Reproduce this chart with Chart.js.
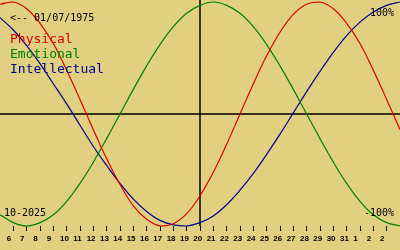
<!DOCTYPE html>
<html>
<head>
<meta charset="utf-8">
<script src="https://cdn.jsdelivr.net/npm/chart.js@4/dist/chart.umd.min.js"></script>
<style>
    html, body { margin: 0; padding: 0; background: #e0d080; }
    #wrap { width: 400px; height: 250px; position: relative; }
</style>
</head>
<body>
<div id="wrap"><canvas id="myChart" width="400" height="250"></canvas></div>
<script>
// day slots across the window, 0 and 30 sit on the edges
const DAY_SLOTS = [0, 1, 2, 3, 4, 5, 6, 7, 8, 9, 10, 11, 12, 13, 14, 15, 16, 17, 18, 19, 20, 21, 22, 23, 24, 25, 26, 27, 28, 29, 30];
const DAY_LABELS = ['6', '7', '8', '9', '10', '11', '12', '13', '14', '15', '16', '17', '18', '19', '20',
    '21', '22', '23', '24', '25', '26', '27', '28', '29', '30', '31', '1', '2', '2'];
const TODAY_SLOT = 15;

const PHYSICAL = [98, 100, 94, 81, 63, 39, 13, -14, -40, -63, -82, -94, -100, -98, -89, -73,
    -52, -27, 0, 27, 52, 73, 89, 98, 100, 94, 81, 63, 39, 13, -14];
const EMOTIONAL = [-90, -97, -100, -97, -90, -78, -62, -43, -22, 0, 22, 43, 62, 78, 90, 97,
    100, 97, 90, 78, 62, 43, 22, 0, -22, -43, -62, -78, -90, -97, -100];
const INTELLECTUAL = [86, 75, 61, 45, 27, 9, -10, -29, -46, -62, -76, -87, -95, -99, -100, -97,
    -91, -81, -68, -53, -36, -18, 1, 20, 38, 55, 70, 82, 91, 97, 100];

const COLORS = {
    bg: '#e0d080',
    physical: '#dd0000',
    emotional: '#008000',
    intellectual: '#000090'
};

function toPoints (values) {
    return values.map((v, i) => ({ x: DAY_SLOTS[i], y: v }));
}

function lineDataset (label, values, color) {
    return {
        label: label,
        data: toPoints(values),
        borderColor: color,
        borderWidth: 1.2,
        pointRadius: 0,
        pointHoverRadius: 0,
        fill: false,
        clip: false,
        tension: 0.4
    };
}

const overlay = {
    id: 'overlay',
    beforeDraw (chart) {
        const { ctx, width, height } = chart;
        ctx.save();
        ctx.fillStyle = COLORS.bg;
        ctx.fillRect(0, 0, width, height);
        ctx.restore();
    },
    beforeDatasetsDraw (chart) {
        const { ctx, chartArea, scales } = chart;
        const x0 = scales.x.getPixelForValue(TODAY_SLOT);
        const y0 = scales.y.getPixelForValue(0);
        ctx.save();
        ctx.strokeStyle = '#000';
        ctx.lineWidth = 1.5;
        ctx.beginPath();
        ctx.moveTo(chartArea.left, y0);
        ctx.lineTo(chartArea.right, y0);
        ctx.moveTo(x0, 0);
        ctx.lineTo(x0, chartArea.bottom);
        ctx.stroke();
        ctx.restore();
    },
    afterDraw (chart) {
        const { ctx } = chart;
        ctx.save();
        ctx.textBaseline = 'alphabetic';
        ctx.fillStyle = '#000';
        ctx.font = '10px "DejaVu Sans Mono"';
        ctx.textAlign = 'left';
        ctx.fillText('<-- 01/07/1975', 10, 21);
        ctx.fillText('10-2025', 4, 216);
        ctx.textAlign = 'right';
        ctx.fillText('100%', 394, 16);
        ctx.fillText('-100%', 394, 216);

        ctx.textAlign = 'left';
        ctx.font = '13px "DejaVu Sans Mono"';
        ctx.fillStyle = COLORS.physical;
        ctx.fillText('Physical', 10, 43);
        ctx.fillStyle = COLORS.emotional;
        ctx.fillText('Emotional', 10, 58);
        ctx.fillStyle = COLORS.intellectual;
        ctx.fillText('Intellectual', 10, 73);
        ctx.restore();
    }
};

new Chart(document.getElementById('myChart'), {
    type: 'line',
    data: {
        datasets: [
            lineDataset('Physical', PHYSICAL, COLORS.physical),
            lineDataset('Emotional', EMOTIONAL, COLORS.emotional),
            lineDataset('Intellectual', INTELLECTUAL, COLORS.intellectual)
        ]
    },
    options: {
        responsive: false,
        animation: false,
        devicePixelRatio: 1,
        events: [],
        layout: { autoPadding: false, padding: { top: 2, left: 0, right: 0, bottom: 0 } },
        plugins: {
            legend: { display: false },
            tooltip: { enabled: false }
        },
        scales: {
            x: {
                type: 'linear',
                min: 0,
                max: 30,
                border: { display: false },
                grid: {
                    drawOnChartArea: false,
                    drawTicks: true,
                    tickLength: 5,
                    tickWidth: 1,
                    tickColor: (c) => (c.index === 0 || c.index === 30) ? 'rgba(0,0,0,0)' : '#000'
                },
                ticks: {
                    stepSize: 1,
                    autoSkip: false,
                    maxRotation: 0,
                    minRotation: 0,
                    align: 'start',
                    labelOffset: -6.67,
                    padding: 3,
                    color: '#000',
                    font: { family: '"Liberation Sans"', size: 8, weight: 'bold' },
                    callback: (value, i) => DAY_LABELS[i - 1] || ''
                },
                afterFit: (scale) => {
                    scale.height = 24;
                    scale.paddingLeft = 0;
                    scale.paddingRight = 0;
                }
            },
            y: {
                display: false,
                min: -100,
                max: 100
            }
        }
    },
    plugins: [overlay]
});
</script>
</body>
</html>
